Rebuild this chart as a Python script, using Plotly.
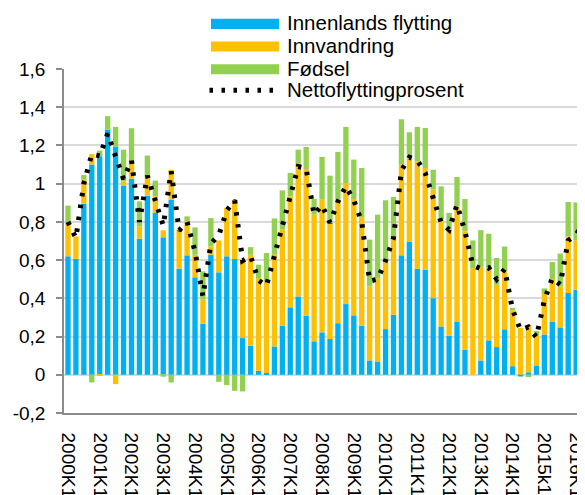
import plotly.graph_objects as go

# ---------------- data ----------------
quarters = [
    "2000K1", "2000K2", "2000K3", "2000K4", "2001K1", "2001K2", "2001K3", "2001K4",
    "2002K1", "2002K2", "2002K3", "2002K4", "2003K1", "2003K2", "2003K3", "2003K4",
    "2004K1", "2004K2", "2004K3", "2004K4", "2005K1", "2005K2", "2005K3", "2005K4",
    "2006K1", "2006K2", "2006K3", "2006K4", "2007K1", "2007K2", "2007K3", "2007K4",
    "2008K1", "2008K2", "2008K3", "2008K4", "2009K1", "2009K2", "2009K3", "2009K4",
    "2010K1", "2010K2", "2010K3", "2010K4", "2011K1", "2011K2", "2011K3", "2011K4",
    "2012K1", "2012K2", "2012K3", "2012K4", "2013K1", "2013K2", "2013K3", "2013K4",
    "2014K1", "2014K2", "2014K3", "2014K4", "2015k1", "2015K2", "2015K3", "2015K4",
    "2016K1", "2016K2",
]

innenlands = [
    0.620, 0.607, 0.895, 1.100, 1.143, 1.283, 1.192, 0.991,
    1.026, 0.712, 0.937, 0.846, 0.719, 0.916, 0.555, 0.625,
    0.510, 0.267, 0.628, 0.536, 0.620, 0.606, 0.192, 0.152,
    0.021, 0.009, 0.148, 0.257, 0.353, 0.410, 0.309, 0.175,
    0.222, 0.187, 0.270, 0.370, 0.311, 0.257, 0.075, 0.070,
    0.239, 0.314, 0.625, 0.698, 0.555, 0.550, 0.401, 0.253,
    0.205, 0.279, 0.131, 0.000, 0.075, 0.180, 0.145, 0.238,
    0.045, -0.009, 0.013, 0.049, 0.211, 0.279, 0.248, 0.428,
    0.445, 0.511,
]

innvandring = [
    0.174, 0.117, 0.126, 0.055, -0.005, 0.005, -0.049, 0.020,
    0.090, 0.065, 0.098, 0.088, 0.037, 0.157, 0.204, 0.178,
    0.118, 0.126, 0.044, 0.167, 0.253, 0.310, 0.407, 0.476,
    0.485, 0.480, 0.480, 0.502, 0.581, 0.695, 0.768, 0.665,
    0.694, 0.603, 0.646, 0.633, 0.609, 0.568, 0.387, 0.436,
    0.363, 0.410, 0.475, 0.436, 0.562, 0.532, 0.568, 0.559,
    0.555, 0.602, 0.619, 0.558, 0.490, 0.370, 0.326, 0.303,
    0.293, 0.245, 0.248, 0.160, 0.217, 0.222, 0.214, 0.296,
    0.258, 0.283,
]

fodsel = [
    0.091, 0.000, 0.024, -0.040, 0.030, 0.065, 0.105, 0.167,
    0.174, 0.130, 0.112, 0.082, -0.010, -0.040, 0.000, 0.026,
    0.143, 0.148, 0.148, -0.037, -0.054, -0.084, -0.087, 0.040,
    0.070, 0.148, 0.190, 0.206, 0.122, 0.073, 0.115, 0.081,
    0.224, 0.252, 0.250, 0.294, 0.206, 0.257, 0.245, 0.332,
    0.311, 0.206, 0.237, 0.135, 0.180, 0.209, 0.104, 0.174,
    0.087, 0.154, 0.170, 0.145, 0.192, 0.188, 0.140, 0.130,
    0.012, 0.000, -0.012, 0.020, 0.024, 0.089, 0.172, 0.180,
    0.199, 0.218,
]

nettoflyttingprosent = [
    0.800, 0.716, 1.000, 1.155, 1.145, 1.262, 1.143, 1.024,
    1.122, 0.800, 1.042, 0.920, 0.780, 1.065, 0.755, 0.800,
    0.646, 0.410, 0.686, 0.730, 0.860, 0.913, 0.597, 0.620,
    0.494, 0.466, 0.623, 0.777, 0.925, 1.090, 1.080, 0.838,
    0.887, 0.796, 0.906, 0.986, 0.913, 0.800, 0.490, 0.500,
    0.597, 0.716, 1.070, 1.138, 1.122, 1.055, 0.925, 0.797,
    0.759, 0.890, 0.750, 0.572, 0.555, 0.560, 0.500, 0.553,
    0.340, 0.235, 0.250, 0.197, 0.390, 0.506, 0.472, 0.703,
    0.730, 0.810,
]

x_tick_labels = [
    "2000K1", "2001K1", "2002K1", "2003K1", "2004K1", "2005K1", "2006K1",
    "2007K1", "2008K1", "2009K1", "2010K1", "2011K1", "2012K1", "2013K1",
    "2014K1", "2015k1", "2016K1",
]
y_tick_values = [-0.2, 0, 0.2, 0.4, 0.6, 0.8, 1.0, 1.2, 1.4, 1.6]
y_tick_labels = ["-0,2", "0", "0,2", "0,4", "0,6", "0,8", "1", "1,2", "1,4", "1,6"]

series_names = ["Innenlands flytting", "Innvandring", "Fødsel", "Nettoflyttingprosent"]

# ---------------- style ----------------
OFF = 8                       # the page body adds an 8px margin; compensate
W, H = 585 - OFF, 495 - OFF
PL, PR, PT, PB = 64 - OFF, 585 - OFF, 69.4 - OFF, 413.2 - OFF   # plot area (figure px)
FONT = "Liberation Sans, Arial, sans-serif"
BLUE, ORANGE, GREEN = "#00B0F0", "#FFC000", "#92D050"
DOT_W = 5
DOT_DASH = "3.5px,8.5px"


def px_x(px):
    """reference-page pixel x -> paper coordinate"""
    return (px - OFF - PL) / (PR - PL)


def px_y(py):
    """reference-page pixel y -> paper coordinate"""
    return (PB - (py - OFF)) / (PB - PT)


fig = go.Figure()
for name, vals, col in [(series_names[0], innenlands, BLUE),
                        (series_names[1], innvandring, ORANGE),
                        (series_names[2], fodsel, GREEN)]:
    fig.add_trace(go.Bar(x=quarters, y=vals, name=name, marker=dict(color=col, line=dict(width=0)),
                         showlegend=False))

fig.add_trace(go.Scatter(x=quarters, y=nettoflyttingprosent, name=series_names[3], mode="lines",
                         line=dict(color="black", width=DOT_W, dash=DOT_DASH), showlegend=False))

# custom legend (wide swatches like the original)
shapes = []
annotations = []
rows = [(24.3, BLUE), (47.0, ORANGE), (69.7, GREEN)]
for (cy, col), name in zip(rows, series_names[:3]):
    shapes.append(dict(type="rect", xref="paper", yref="paper", layer="above",
                       x0=px_x(211), x1=px_x(279), y0=px_y(cy - 5), y1=px_y(cy + 5),
                       fillcolor=col, line=dict(width=0)))
    annotations.append(dict(xref="paper", yref="paper", x=px_x(285), y=px_y(cy - 1), text=name,
                            showarrow=False, xanchor="left", yanchor="middle",
                            font=dict(family=FONT, size=20.5, color="black")))
cy = 90.7
shapes.append(dict(type="line", xref="paper", yref="paper", layer="above",
                   x0=px_x(209.5), x1=px_x(274), y0=px_y(cy), y1=px_y(cy),
                   line=dict(color="black", width=DOT_W, dash=DOT_DASH)))
annotations.append(dict(xref="paper", yref="paper", x=px_x(285), y=px_y(cy - 1), text=series_names[3],
                        showarrow=False, xanchor="left", yanchor="middle",
                        font=dict(family=FONT, size=20.5, color="black")))

fig.update_layout(
    width=W, height=H,
    margin=dict(l=PL, r=W - PR, t=PT, b=H - PB, pad=0, autoexpand=False),
    barmode="relative", bargap=0.33,
    plot_bgcolor="white", paper_bgcolor="white",
    font=dict(family=FONT, size=19, color="black"),
    shapes=shapes, annotations=annotations,
    showlegend=False,
)
fig.update_xaxes(
    type="category", range=[-0.5, 65.12],
    tickmode="array", tickvals=quarters[::4], ticktext=x_tick_labels,
    tickangle=90, ticks="", showgrid=False, zeroline=False,
    showline=True, linecolor="#8C8C8C", linewidth=1.5,
    ticklabelstandoff=14, automargin=False,
    tickfont=dict(family=FONT, size=19, color="black"),
)
fig.update_yaxes(
    range=[-0.2, 1.6], tickmode="array", tickvals=y_tick_values, ticktext=y_tick_labels,
    showgrid=True, gridcolor="#D9D9D9", gridwidth=1.5, zeroline=False,
    showline=True, linecolor="#8C8C8C", linewidth=1.5,
    ticks="outside", ticklen=6, tickcolor="#8C8C8C", tickwidth=1.5,
    ticklabelstandoff=7, automargin=False,
    tickfont=dict(family=FONT, size=19, color="black"),
)

fig.write_html("out.html")
